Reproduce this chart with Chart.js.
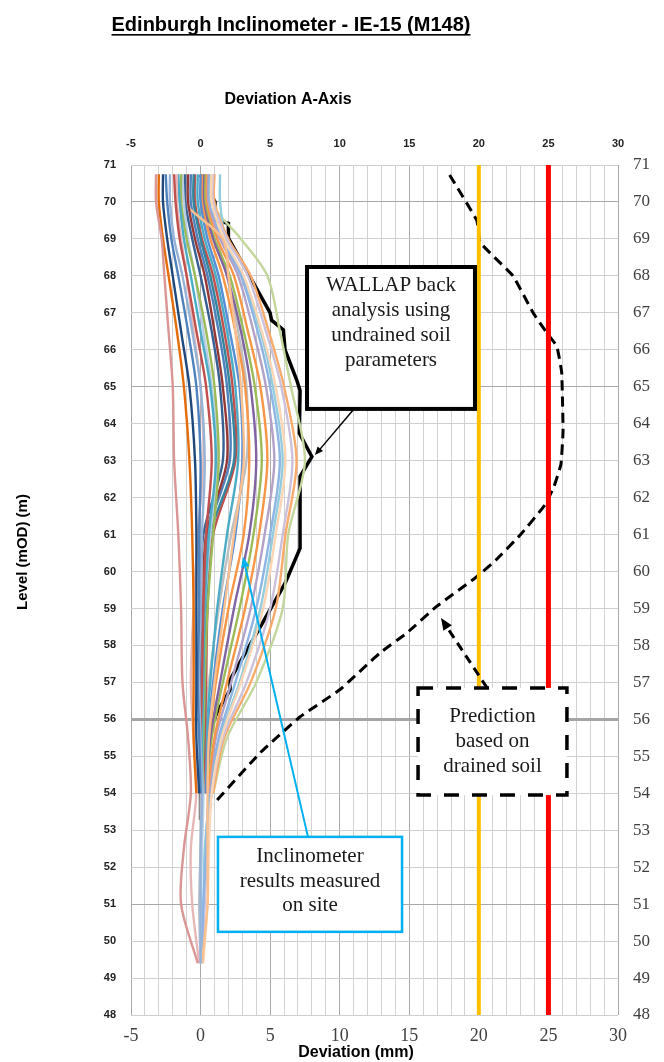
<!DOCTYPE html>
<html>
<head>
<meta charset="utf-8">
<title>Edinburgh Inclinometer - IE-15 (M148)</title>
<script src="https://cdn.jsdelivr.net/npm/chart.js@4.4.0/dist/chart.umd.min.js"></script>
<style>
  html, body { margin: 0; padding: 0; background: #fff; }
  #wrap { width: 664px; height: 1062px; }
</style>
</head>
<body>
<div id="wrap"><canvas id="myChart" width="664" height="1062"></canvas></div>
<script>
var levels = [70.75, 70, 69, 68, 66.5, 65, 63, 61, 59, 57, 55.5, 54, 52.5, 51, 49.4];

// inclinometer readings, deviation (mm) at each level (null = reading stops)
var r01 = [-3.2, -3.2, -2.8, -2.6, -2.3, -2.0, -1.9, -1.6, -1.4, -1.3, -0.9, -0.7, -1.2, -1.4, -0.2];
var r02 = [-3.0, -3.0, -2.7, -2.3, -1.7, -1.2, -0.8, -0.6, -0.5, -0.5, -0.5, -0.3, null, null, null];
var r03 = [-2.7, -2.7, -2.4, -2.0, -1.4, -0.8, -0.4, -0.3, -0.3, -0.3, -0.3, -0.1, null, null, null];
var r04 = [-2.5, -2.4, -2.1, -1.6, -0.9, -0.3, 0.0, -0.1, -0.1, -0.2, -0.1, 0.0, null, null, null];
var r05 = [-2.2, -2.2, -1.9, -1.3, -0.6, 0.0, 0.3, 0.1, 0.0, -0.1, 0.0, 0.1, 0.0, 0.0, 0.0];
var r06 = [-1.9, -1.8, -1.5, -1.0, -0.3, 0.4, 0.8, 0.4, 0.2, 0.1, 0.0, 0.0, null, null, null];
var r07 = [-1.7, -1.7, -1.4, -1.0, -0.5, 0.0, 0.2, -0.2, -0.5, -0.7, -0.5, -0.3, -0.7, -0.6, -0.1];
var r08 = [-1.6, -1.5, -1.2, -0.7, 0.0, 0.7, 1.1, 0.6, 0.3, 0.2, 0.1, 0.1, null, null, null];
var r09 = [-1.4, -1.4, -1.0, -0.4, 0.4, 1.0, 1.3, 0.9, 0.5, 0.3, 0.2, 0.1, null, null, null];
var r10 = [-1.3, -1.2, -0.9, -0.4, 0.2, 0.8, 1.2, 0.7, 0.3, 0.1, 0.1, 0.2, 0.1, 0.0, 0.0];
var r11 = [-1.1, -1.1, -0.6, 0.0, 0.8, 1.4, 1.6, 0.2, 0.0, 0.0, 0.0, 0.1, null, null, null];
var r12 = [-0.9, -0.9, -0.4, 0.3, 1.0, 1.6, 1.9, 0.4, 0.2, 0.1, 0.1, 0.1, null, null, null];
var r13 = [-1.2, -1.2, 1.6, 2.0, 2.5, 2.9, 3.1, 2.4, 1.7, 1.0, 0.6, 0.5, 0.5, 0.5, 0.1];
var r14 = [-0.7, -0.7, -0.2, 0.5, 1.3, 1.9, 2.1, 0.5, 0.3, 0.2, 0.2, 0.1, null, null, null];
var r15 = [-0.5, -0.5, 0.0, 0.7, 1.5, 2.1, 2.4, 0.7, 0.4, 0.3, 0.2, 0.1, null, null, null];
var r16 = [-0.4, -0.4, 0.1, 0.9, 1.7, 2.3, 2.5, 0.9, 0.5, 0.4, 0.3, 0.2, null, null, null];
var r17 = [-0.2, -0.2, 0.3, 1.1, 1.9, 2.5, 2.7, 1.9, 1.2, 0.7, 0.4, 0.2, null, null, null];
var r18 = [0.0, 0.0, 0.5, 1.3, 2.1, 2.8, 3.0, 2.5, 1.6, 0.9, 0.5, 0.3, null, null, null];
var r19 = [0.1, 0.1, 0.7, 1.6, 2.5, 3.2, 3.5, 3.1, 2.0, 1.1, 0.6, 0.3, null, null, null];
var r20 = [0.2, 0.2, 0.9, 1.9, 2.9, 3.6, 4.0, 3.5, 2.4, 1.4, 0.7, 0.4, null, null, null];
var r21 = [0.3, 0.3, 1.0, 2.1, 3.1, 3.9, 4.4, 3.8, 2.8, 1.6, 0.8, 0.4, null, null, null];
var r22 = [0.4, 0.4, 1.2, 2.4, 3.4, 4.3, 4.8, 4.2, 3.2, 1.9, 1.0, 0.5, null, null, null];
var r23 = [0.5, 0.5, 1.4, 2.7, 3.8, 4.7, 5.3, 4.6, 3.6, 2.2, 1.1, 0.6, null, null, null];
var r24 = [0.6, 0.6, 1.5, 2.9, 4.1, 5.0, 5.7, 5.0, 4.0, 2.5, 1.3, 0.6, 0.4, 0.2, 0.1];
var r25 = [0.8, 0.8, 1.7, 3.1, 4.4, 5.4, 6.1, 5.4, 4.5, 2.9, 1.5, 0.8, 0.6, 0.5, 0.2];
var r26 = [0.9, 0.9, 1.9, 3.4, 4.7, 5.8, 6.6, 5.9, 5.0, 3.3, 1.6, 0.8, 0.5, 0.3, 0.1];
var r27 = [1.0, 1.0, 2.0, 3.6, 4.9, 6.0, 6.9, 6.1, 5.4, 3.6, 1.7, 0.9, null, null, null];
var r28 = [1.4, 1.4, 1.8, 3.0, 4.3, 5.2, 5.9, 5.2, 4.3, 2.8, 1.4, 0.7, 0.3, 0.2, 0.0];
var r29 = [0.7, 0.7, 2.9, 4.8, 5.7, 6.5, 7.5, 6.3, 5.9, 4.0, 1.9, 0.9, null, null, null];
var r30 = [0.9, 0.9, 1.2, 1.9, 2.7, 3.3, 3.3, 2.2, 1.3, 0.6, 0.2, 0.0, 0.0, -0.1, 0.0];

var readings = [r01, r02, r03, r04, r05, r06, r07, r08, r09, r10, r11, r12, r13, r14, r15,
                r16, r17, r18, r19, r20, r21, r22, r23, r24, r25, r26, r27, r28, r29, r30];

var readingColors = ['#D99694', '#E46C0A', '#1F497D', '#4F81BD', '#95B3D7', '#C0504D', '#E6B9B8',
  '#4BACC6', '#9BBB59', '#B9CDE5', '#376092', '#953735', '#FAC090', '#4F81BD', '#31859C',
  '#C0504D', '#4BACC6', '#558ED5', '#F79646', '#8064A2', '#9BBB59', '#F79646', '#B3A2C7',
  '#8DB4E2', '#FCD5B5', '#CCC1DA', '#F9AB6B', '#93CDDD', '#C3D69B', '#BFBFBF'];

// WALLAP back analysis (undrained)
var wallapDev   = [0, 1.04, 1.04, 2.0, 2.0, 5.0, 5.1, 5.95, 6.07, 6.91, 7.15, 7.1, 8.0, 7.15, 7.15, 6.07, 2.12, 2.12, 1.16, 0.2, 0, 0];
var wallapLevel = [70.73, 70.0, 69.51, 69.42, 69.02, 67.0, 66.8, 66.54, 66.0, 65.18, 64.9, 63.74, 63.11, 62.57, 60.63, 59.68, 57.07, 56.8, 56.17, 55.26, 54.9, 53.28];

// prediction based on drained soil
var predDev   = [17.9, 19.85, 20.1, 22.45, 23.9, 24.9, 25.6, 25.95, 26.05, 25.9, 25.4, 24.75, 23.0, 21.2, 19.85, 16.95, 14.8, 12.9, 10.0, 7.15, 4.3, 0.9];
var predLevel = [70.73, 69.5, 68.9, 68.0, 67.0, 66.45, 66.1, 65.4, 63.8, 62.9, 62.3, 61.8, 61.0, 60.3, 59.86, 59.05, 58.33, 57.8, 56.8, 56.07, 55.1, 53.7];

// trigger levels
var amberLimit = [20, 20];
var redLimit = [25, 25];
var limitLevels = [48, 71];

function pairs(xs, ys) {
	var pts = [];
	for (var i = 0; i < xs.length; i++) {
		if (xs[i] !== null) pts.push({ x: xs[i], y: ys[i] });
	}
	return pts;
}

var datasets = [];
datasets.push({ data: pairs(amberLimit, limitLevels), borderColor: '#FFC000', borderWidth: 4 });
datasets.push({ data: pairs(redLimit, limitLevels), borderColor: '#FF0000', borderWidth: 5 });
datasets.push({ data: pairs(redLimit, limitLevels), borderColor: '#FFC8C8', borderWidth: 1.2 });

for (var i = 0; i < readings.length; i++) {
	datasets.push({
		data: pairs(readings[i], levels),
		borderColor: readingColors[i],
		borderWidth: 2.4,
		tension: 0.3
	});
}

datasets.push({ data: pairs(predDev, predLevel), borderColor: '#000', borderWidth: 3, borderDash: [10, 6], tension: 0.1 });
datasets.push({ data: pairs(wallapDev, wallapLevel), borderColor: '#000', borderWidth: 3.5, tension: 0 });

function arrow(ctx, x1, y1, x2, y2, color, width, dash, head) {
	var ang = Math.atan2(y2 - y1, x2 - x1);
	ctx.save();
	ctx.strokeStyle = color;
	ctx.fillStyle = color;
	ctx.lineWidth = width;
	ctx.setLineDash(dash);
	ctx.beginPath();
	ctx.moveTo(x1, y1);
	ctx.lineTo(x2 - Math.cos(ang) * head * 0.8, y2 - Math.sin(ang) * head * 0.8);
	ctx.stroke();
	ctx.setLineDash([]);
	ctx.beginPath();
	ctx.moveTo(x2, y2);
	ctx.lineTo(x2 - head * Math.cos(ang - 0.4), y2 - head * Math.sin(ang - 0.4));
	ctx.lineTo(x2 - head * Math.cos(ang + 0.4), y2 - head * Math.sin(ang + 0.4));
	ctx.closePath();
	ctx.fill();
	ctx.restore();
}

function box(ctx, x1, y1, x2, y2, color, width, dash, lines, firstY, gap) {
	ctx.save();
	ctx.fillStyle = '#fff';
	ctx.fillRect(x1, y1, x2 - x1, y2 - y1);
	ctx.strokeStyle = color;
	ctx.lineWidth = width;
	ctx.setLineDash(dash);
	ctx.strokeRect(x1, y1, x2 - x1, y2 - y1);
	ctx.setLineDash([]);
	ctx.fillStyle = '#1a1a1a';
	ctx.font = '21px "Liberation Serif", "Times New Roman", serif';
	ctx.textAlign = 'center';
	ctx.textBaseline = 'middle';
	for (var i = 0; i < lines.length; i++) {
		ctx.fillText(lines[i], (x1 + x2) / 2, y1 + firstY + i * gap);
	}
	ctx.restore();
}

var overlay = {
	id: 'overlay',
	afterDatasetsDraw: function(chart) {
		var ctx = chart.ctx;
		var sx = chart.scales.x, sy = chart.scales.y;
		var px = function(v) { return sx.getPixelForValue(v); };
		var py = function(v) { return sy.getPixelForValue(v); };

		arrow(ctx, px(11.1), py(64.43), px(8.22), py(63.15), '#000', 1.5, [], 9);
		arrow(ctx, px(7.72), py(52.82), px(3.05), py(60.39), '#00B0F0', 2, [], 11);
		arrow(ctx, px(20.59), py(56.85), px(17.28), py(58.74), '#000', 3, [9, 6], 13);

		box(ctx, px(7.65), py(68.24), px(19.72), py(64.40), '#000', 4, [],
			['WALLAP back', 'analysis using', 'undrained soil', 'parameters'], 18, 25);
		box(ctx, px(1.25), py(52.82), px(14.48), py(50.25), '#00B0F0', 2.5, [],
			['Inclinometer', 'results measured', 'on site'], 20, 24.5);
		box(ctx, px(15.63), py(56.85), px(26.33), py(53.95), '#000', 3.5, [15, 13],
			['Prediction', 'based on', 'drained soil'], 29, 25);
	},
	afterDraw: function(chart) {
		var ctx = chart.ctx;
		ctx.save();
		ctx.fillStyle = '#000';
		ctx.textAlign = 'center';
		ctx.textBaseline = 'middle';
		var title = 'Edinburgh Inclinometer - IE-15 (M148)';
		ctx.font = 'bold 20px "Liberation Sans", Arial, sans-serif';
		ctx.fillText(title, 291, 25);
		var w = ctx.measureText(title).width;
		ctx.fillRect(291 - w / 2, 34, w, 1.6);

		ctx.font = 'bold 16px "Liberation Sans", Arial, sans-serif';
		ctx.fillText('Deviation A-Axis', 288, 100);
		ctx.fillText('Deviation (mm)', 356, 1053);

		ctx.translate(23, 552);
		ctx.rotate(-Math.PI / 2);
		ctx.font = 'bold 15px "Liberation Sans", Arial, sans-serif';
		ctx.fillText('Level (mOD) (m)', 0, 0);
		ctx.restore();
	}
};

var boldSans = { family: '"Liberation Sans", Arial, sans-serif', size: 11, weight: 'bold' };
var serif = { family: '"Liberation Serif", "Times New Roman", serif', size: 17 };

var ctx = document.getElementById('myChart');
var myChart = new Chart(ctx, {
	type: 'scatter',
	data: { datasets: datasets },
	plugins: [overlay],
	options: {
		responsive: false,
		devicePixelRatio: 1,
		animation: false,
		showLine: true,
		layout: { padding: 0 },
		elements: { point: { radius: 0, hoverRadius: 0 }, line: { fill: false } },
		plugins: { legend: { display: false }, tooltip: { enabled: false }, title: { display: false } },
		scales: {
			x: {
				type: 'linear', position: 'bottom', min: -5, max: 30,
				afterFit: function(s) { s.height = 47; },
				border: { display: false },
				grid: {
					drawTicks: false,
					color: function(c) { return c.tick && c.tick.value % 5 === 0 ? '#a9a9a9' : '#d2d2d2'; },
					lineWidth: 1
				},
				ticks: {
					stepSize: 1, autoSkip: false, maxRotation: 0, padding: 10, color: '#404040',
					font: { family: serif.family, size: 18 },
					callback: function(v) { return v % 5 === 0 ? v : ''; }
				}
			},
			x2: {
				type: 'linear', position: 'top', min: -5, max: 30,
				afterFit: function(s) { s.height = 165; },
				border: { display: false },
				grid: { display: false, drawTicks: false },
				ticks: { stepSize: 5, autoSkip: false, maxRotation: 0, padding: 14, color: '#222', font: boldSans }
			},
			y: {
				type: 'linear', position: 'left', min: 48, max: 71,
				afterFit: function(s) { s.width = 131; },
				border: { display: false },
				grid: {
					drawTicks: false,
					color: function(c) {
						var v = c.tick ? c.tick.value : 0;
						if (v === 56) return '#a5a5a5';
						if (v === 70 || v === 65 || v === 51) return '#a9a9a9';
						return '#cfcfcf';
					},
					lineWidth: function(c) { return c.tick && c.tick.value === 56 ? 3 : 1; }
				},
				ticks: { stepSize: 1, autoSkip: false, padding: 15, color: '#222', font: boldSans }
			},
			y2: {
				type: 'linear', position: 'right', min: 48, max: 71,
				afterFit: function(s) { s.width = 46; },
				border: { display: false },
				grid: { display: false, drawTicks: false },
				ticks: { stepSize: 1, autoSkip: false, padding: 15, color: '#404040', font: serif }
			}
		}
	}
});
</script>
</body>
</html>
